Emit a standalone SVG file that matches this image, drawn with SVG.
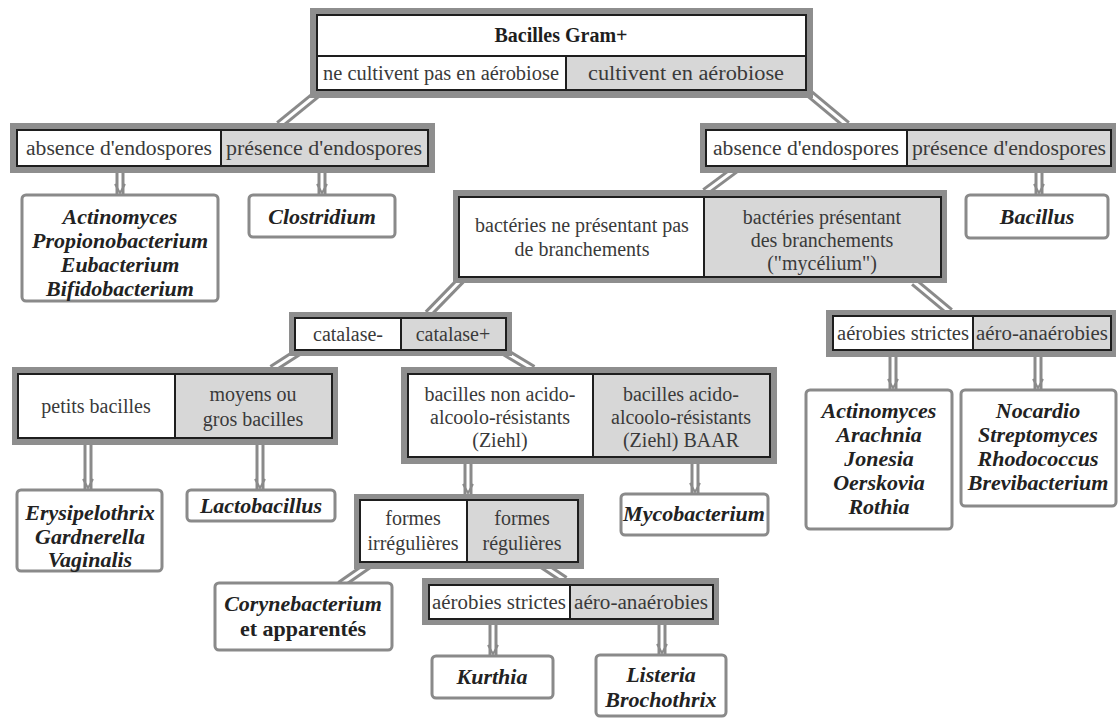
<svg xmlns="http://www.w3.org/2000/svg" width="1118" height="718" viewBox="0 0 1118 718">
<style>
.frame{fill:#8e8e8e}
.inner{fill:#fff;stroke:#1e1e1e;stroke-width:2}
.gcell{fill:#d7d7d7}
.div{stroke:#1e1e1e;stroke-width:2}
.leaf{fill:#fff;stroke:#8a8a8a;stroke-width:3}
text{font-family:'Liberation Serif','Times New Roman','DejaVu Serif',serif}
.t{font-size:20px;fill:#3a3a3a;text-anchor:middle}
.title{font-size:20px;font-weight:bold;fill:#1e1e1e;text-anchor:middle}
.lt{font-size:22px;font-weight:bold;font-style:italic;fill:#222;text-anchor:middle}
.lb{font-size:22px;font-weight:bold;fill:#222;text-anchor:middle}
.po{fill:none;stroke:#8a8a8a;stroke-width:9}
.pi{fill:none;stroke:#fff;stroke-width:3}
.ah{fill:none;stroke:#8a8a8a;stroke-width:2}
</style>
<defs>
<path id="d1" d="M322 90 L279 125"/>
<path id="d2" d="M805 90 L847 125"/>
<path id="d5" d="M740 166 L705 192"/>
<path id="d7" d="M463 278 L428 314"/>
<path id="d8" d="M914 282 L950 312"/>
<path id="d9" d="M300 351 L272 369"/>
<path id="d10" d="M503 351 L533 369"/>
<path id="d17" d="M373 562 L340 585"/>
<path id="d18" d="M538 562 L565 580"/>
<path id="v3" d="M120 166 L120 195"/>
<path id="v4" d="M322 166 L322 195"/>
<path id="v6" d="M1039 166 L1039 195"/>
<path id="v11" d="M88 439 L88 490"/>
<path id="v12" d="M260 439 L260 490"/>
<path id="v13" d="M468 458 L468 495"/>
<path id="v14" d="M695 458 L695 494"/>
<path id="v15" d="M893 351 L893 390"/>
<path id="v16" d="M1038 351 L1038 390"/>
<path id="v19" d="M493 619 L493 656"/>
<path id="v20" d="M662 619 L662 655"/>
</defs>
<rect width="1118" height="718" fill="#fff"/>
<g id="connectors">
<use href="#d1" class="po"/><use href="#d2" class="po"/><use href="#d5" class="po"/><use href="#d7" class="po"/><use href="#d8" class="po"/><use href="#d9" class="po"/><use href="#d10" class="po"/><use href="#d17" class="po"/><use href="#d18" class="po"/>
<use href="#v3" class="po"/><use href="#v4" class="po"/><use href="#v6" class="po"/><use href="#v11" class="po"/><use href="#v12" class="po"/><use href="#v13" class="po"/><use href="#v14" class="po"/><use href="#v15" class="po"/><use href="#v16" class="po"/><use href="#v19" class="po"/><use href="#v20" class="po"/>
<use href="#d1" class="pi"/><use href="#d2" class="pi"/><use href="#d5" class="pi"/><use href="#d7" class="pi"/><use href="#d8" class="pi"/><use href="#d9" class="pi"/><use href="#d10" class="pi"/><use href="#d17" class="pi"/><use href="#d18" class="pi"/>
<use href="#v3" class="pi"/><use href="#v4" class="pi"/><use href="#v6" class="pi"/><use href="#v11" class="pi"/><use href="#v12" class="pi"/><use href="#v13" class="pi"/><use href="#v14" class="pi"/><use href="#v15" class="pi"/><use href="#v16" class="pi"/><use href="#v19" class="pi"/><use href="#v20" class="pi"/>
<polyline class="ah" points="115,184 120,193 125,184"/>
<polyline class="ah" points="317,184 322,193 327,184"/>
<polyline class="ah" points="1034,184 1039,193 1044,184"/>
<polyline class="ah" points="83,479 88,488 93,479"/>
<polyline class="ah" points="255,479 260,488 265,479"/>
<polyline class="ah" points="463,484 468,493 473,484"/>
<polyline class="ah" points="690,483 695,492 700,483"/>
<polyline class="ah" points="888,379 893,388 898,379"/>
<polyline class="ah" points="1033,379 1038,388 1043,379"/>
<polyline class="ah" points="488,645 493,654 498,645"/>
<polyline class="ah" points="657,644 662,653 667,644"/>
</g>
<g id="n-root">
<rect class="frame" x="310" y="8" width="503" height="90"/>
<rect class="inner" x="317" y="15" width="489" height="75"/>
<rect class="gcell" x="566" y="56" width="239" height="33"/>
<line class="div" x1="317" y1="56" x2="806" y2="56"/>
<line class="div" x1="566" y1="56" x2="566" y2="90"/>
<text class="title" x="561" y="42">Bacilles Gram+</text>
<text class="t" x="441" y="80" textLength="236" lengthAdjust="spacingAndGlyphs">ne cultivent pas en aérobiose</text>
<text class="t" x="686" y="80" textLength="196" lengthAdjust="spacingAndGlyphs">cultivent en aérobiose</text>
</g>
<g id="n-endo-left">
<rect class="frame" x="10" y="123" width="425" height="50"/>
<rect class="inner" x="17" y="130" width="411" height="36"/>
<rect class="gcell" x="221" y="131" width="206" height="34"/>
<line class="div" x1="221" y1="130" x2="221" y2="166"/>
<text class="t" x="119" y="155" textLength="186" lengthAdjust="spacingAndGlyphs">absence d'endospores</text>
<text class="t" x="324" y="155" textLength="196" lengthAdjust="spacingAndGlyphs">présence d'endospores</text>
</g>
<g id="n-endo-right">
<rect class="frame" x="700" y="123" width="416" height="50"/>
<rect class="inner" x="706" y="130" width="405" height="36"/>
<rect class="gcell" x="907" y="131" width="203" height="34"/>
<line class="div" x1="907" y1="130" x2="907" y2="166"/>
<text class="t" x="806" y="155" textLength="186" lengthAdjust="spacingAndGlyphs">absence d'endospores</text>
<text class="t" x="1009" y="155" textLength="194" lengthAdjust="spacingAndGlyphs">présence d'endospores</text>
</g>
<g id="leaf-actino1">
<rect class="leaf" x="22" y="195" width="196" height="106" rx="4"/>
<text class="lt" x="120" y="224">Actinomyces</text>
<text class="lt" x="120" y="248">Propionobacterium</text>
<text class="lt" x="120" y="272">Eubacterium</text>
<text class="lt" x="120" y="296">Bifidobacterium</text>
</g>
<g id="leaf-clostridium">
<rect class="leaf" x="249" y="195" width="146" height="42" rx="4"/>
<text class="lt" x="322" y="224">Clostridium</text>
</g>
<g id="leaf-bacillus">
<rect class="leaf" x="966" y="195" width="142" height="43" rx="4"/>
<text class="lt" x="1037" y="224">Bacillus</text>
</g>
<g id="n-branch">
<rect class="frame" x="453" y="190" width="494" height="93"/>
<rect class="inner" x="459" y="197" width="482" height="80"/>
<rect class="gcell" x="704" y="198" width="236" height="78"/>
<line class="div" x1="704" y1="197" x2="704" y2="277"/>
<text class="t" x="582" y="232">bactéries ne présentant pas</text>
<text class="t" x="582" y="256">de branchements</text>
<text class="t" x="822" y="224">bactéries présentant</text>
<text class="t" x="822" y="247">des branchements</text>
<text class="t" x="822" y="270">("mycélium")</text>
</g>
<g id="n-catalase">
<rect class="frame" x="289" y="312" width="223" height="44"/>
<rect class="inner" x="295" y="318" width="211" height="32"/>
<rect class="gcell" x="401" y="319" width="104" height="30"/>
<line class="div" x1="401" y1="318" x2="401" y2="350"/>
<text class="t" x="348" y="341">catalase-</text>
<text class="t" x="453" y="341">catalase+</text>
</g>
<g id="n-aero-right">
<rect class="frame" x="826" y="310" width="290" height="47"/>
<rect class="inner" x="833" y="316" width="278" height="34"/>
<rect class="gcell" x="973" y="317" width="137" height="32"/>
<line class="div" x1="973" y1="316" x2="973" y2="350"/>
<text class="t" x="903" y="340" textLength="132" lengthAdjust="spacingAndGlyphs">aérobies strictes</text>
<text class="t" x="1042" y="340" textLength="132" lengthAdjust="spacingAndGlyphs">aéro-anaérobies</text>
</g>
<g id="n-taille">
<rect class="frame" x="12" y="367" width="326" height="78"/>
<rect class="inner" x="18" y="374" width="314" height="64"/>
<rect class="gcell" x="175" y="375" width="156" height="62"/>
<line class="div" x1="175" y1="374" x2="175" y2="438"/>
<text class="t" x="96" y="413">petits bacilles</text>
<text class="t" x="253" y="401">moyens ou</text>
<text class="t" x="253" y="426">gros bacilles</text>
</g>
<g id="n-ziehl">
<rect class="frame" x="401" y="367" width="376" height="97"/>
<rect class="inner" x="408" y="374" width="362" height="83"/>
<rect class="gcell" x="593" y="375" width="176" height="81"/>
<line class="div" x1="593" y1="374" x2="593" y2="457"/>
<text class="t" x="500" y="401">bacilles non acido-</text>
<text class="t" x="500" y="424">alcoolo-résistants</text>
<text class="t" x="500" y="447">(Ziehl)</text>
<text class="t" x="681" y="401">bacilles acido-</text>
<text class="t" x="681" y="424">alcoolo-résistants</text>
<text class="t" x="681" y="447">(Ziehl) BAAR</text>
</g>
<g id="leaf-erysipelothrix">
<rect class="leaf" x="17" y="490" width="145" height="81" rx="4"/>
<text class="lt" x="90" y="520">Erysipelothrix</text>
<text class="lt" x="90" y="544">Gardnerella</text>
<text class="lt" x="90" y="567">Vaginalis</text>
</g>
<g id="leaf-lactobacillus">
<rect class="leaf" x="187" y="490" width="148" height="31" rx="4"/>
<text class="lt" x="261" y="513">Lactobacillus</text>
</g>
<g id="n-formes">
<rect class="frame" x="354" y="494" width="230" height="75"/>
<rect class="inner" x="360" y="500" width="218" height="62"/>
<rect class="gcell" x="467" y="501" width="110" height="60"/>
<line class="div" x1="467" y1="500" x2="467" y2="562"/>
<text class="t" x="413" y="525">formes</text>
<text class="t" x="413" y="550">irrégulières</text>
<text class="t" x="522" y="525">formes</text>
<text class="t" x="522" y="550">régulières</text>
</g>
<g id="leaf-mycobacterium">
<rect class="leaf" x="621" y="494" width="147" height="41" rx="4"/>
<text class="lt" x="694" y="521">Mycobacterium</text>
</g>
<g id="leaf-actino2">
<rect class="leaf" x="806" y="390" width="146" height="139" rx="4"/>
<text class="lt" x="879" y="418">Actinomyces</text>
<text class="lt" x="879" y="442">Arachnia</text>
<text class="lt" x="879" y="466">Jonesia</text>
<text class="lt" x="879" y="490">Oerskovia</text>
<text class="lt" x="879" y="514">Rothia</text>
</g>
<g id="leaf-nocardio">
<rect class="leaf" x="961" y="390" width="155" height="116" rx="4"/>
<text class="lt" x="1038" y="418">Nocardio</text>
<text class="lt" x="1038" y="442">Streptomyces</text>
<text class="lt" x="1038" y="466">Rhodococcus</text>
<text class="lt" x="1038" y="490">Brevibacterium</text>
</g>
<g id="leaf-corynebacterium">
<rect class="leaf" x="215" y="583" width="177" height="67" rx="4"/>
<text class="lt" x="303" y="611">Corynebacterium</text>
<text class="lb" x="303" y="636">et apparentés</text>
</g>
<g id="n-aero-bottom">
<rect class="frame" x="422" y="578" width="297" height="47"/>
<rect class="inner" x="429" y="585" width="284" height="34"/>
<rect class="gcell" x="570" y="586" width="142" height="32"/>
<line class="div" x1="570" y1="585" x2="570" y2="619"/>
<text class="t" x="499" y="609" textLength="134" lengthAdjust="spacingAndGlyphs">aérobies strictes</text>
<text class="t" x="641" y="609" textLength="134" lengthAdjust="spacingAndGlyphs">aéro-anaérobies</text>
</g>
<g id="leaf-kurthia">
<rect class="leaf" x="432" y="656" width="121" height="42" rx="4"/>
<text class="lt" x="492" y="684">Kurthia</text>
</g>
<g id="leaf-listeria">
<rect class="leaf" x="596" y="655" width="130" height="61" rx="4"/>
<text class="lt" x="661" y="682">Listeria</text>
<text class="lt" x="661" y="707">Brochothrix</text>
</g>
</svg>
